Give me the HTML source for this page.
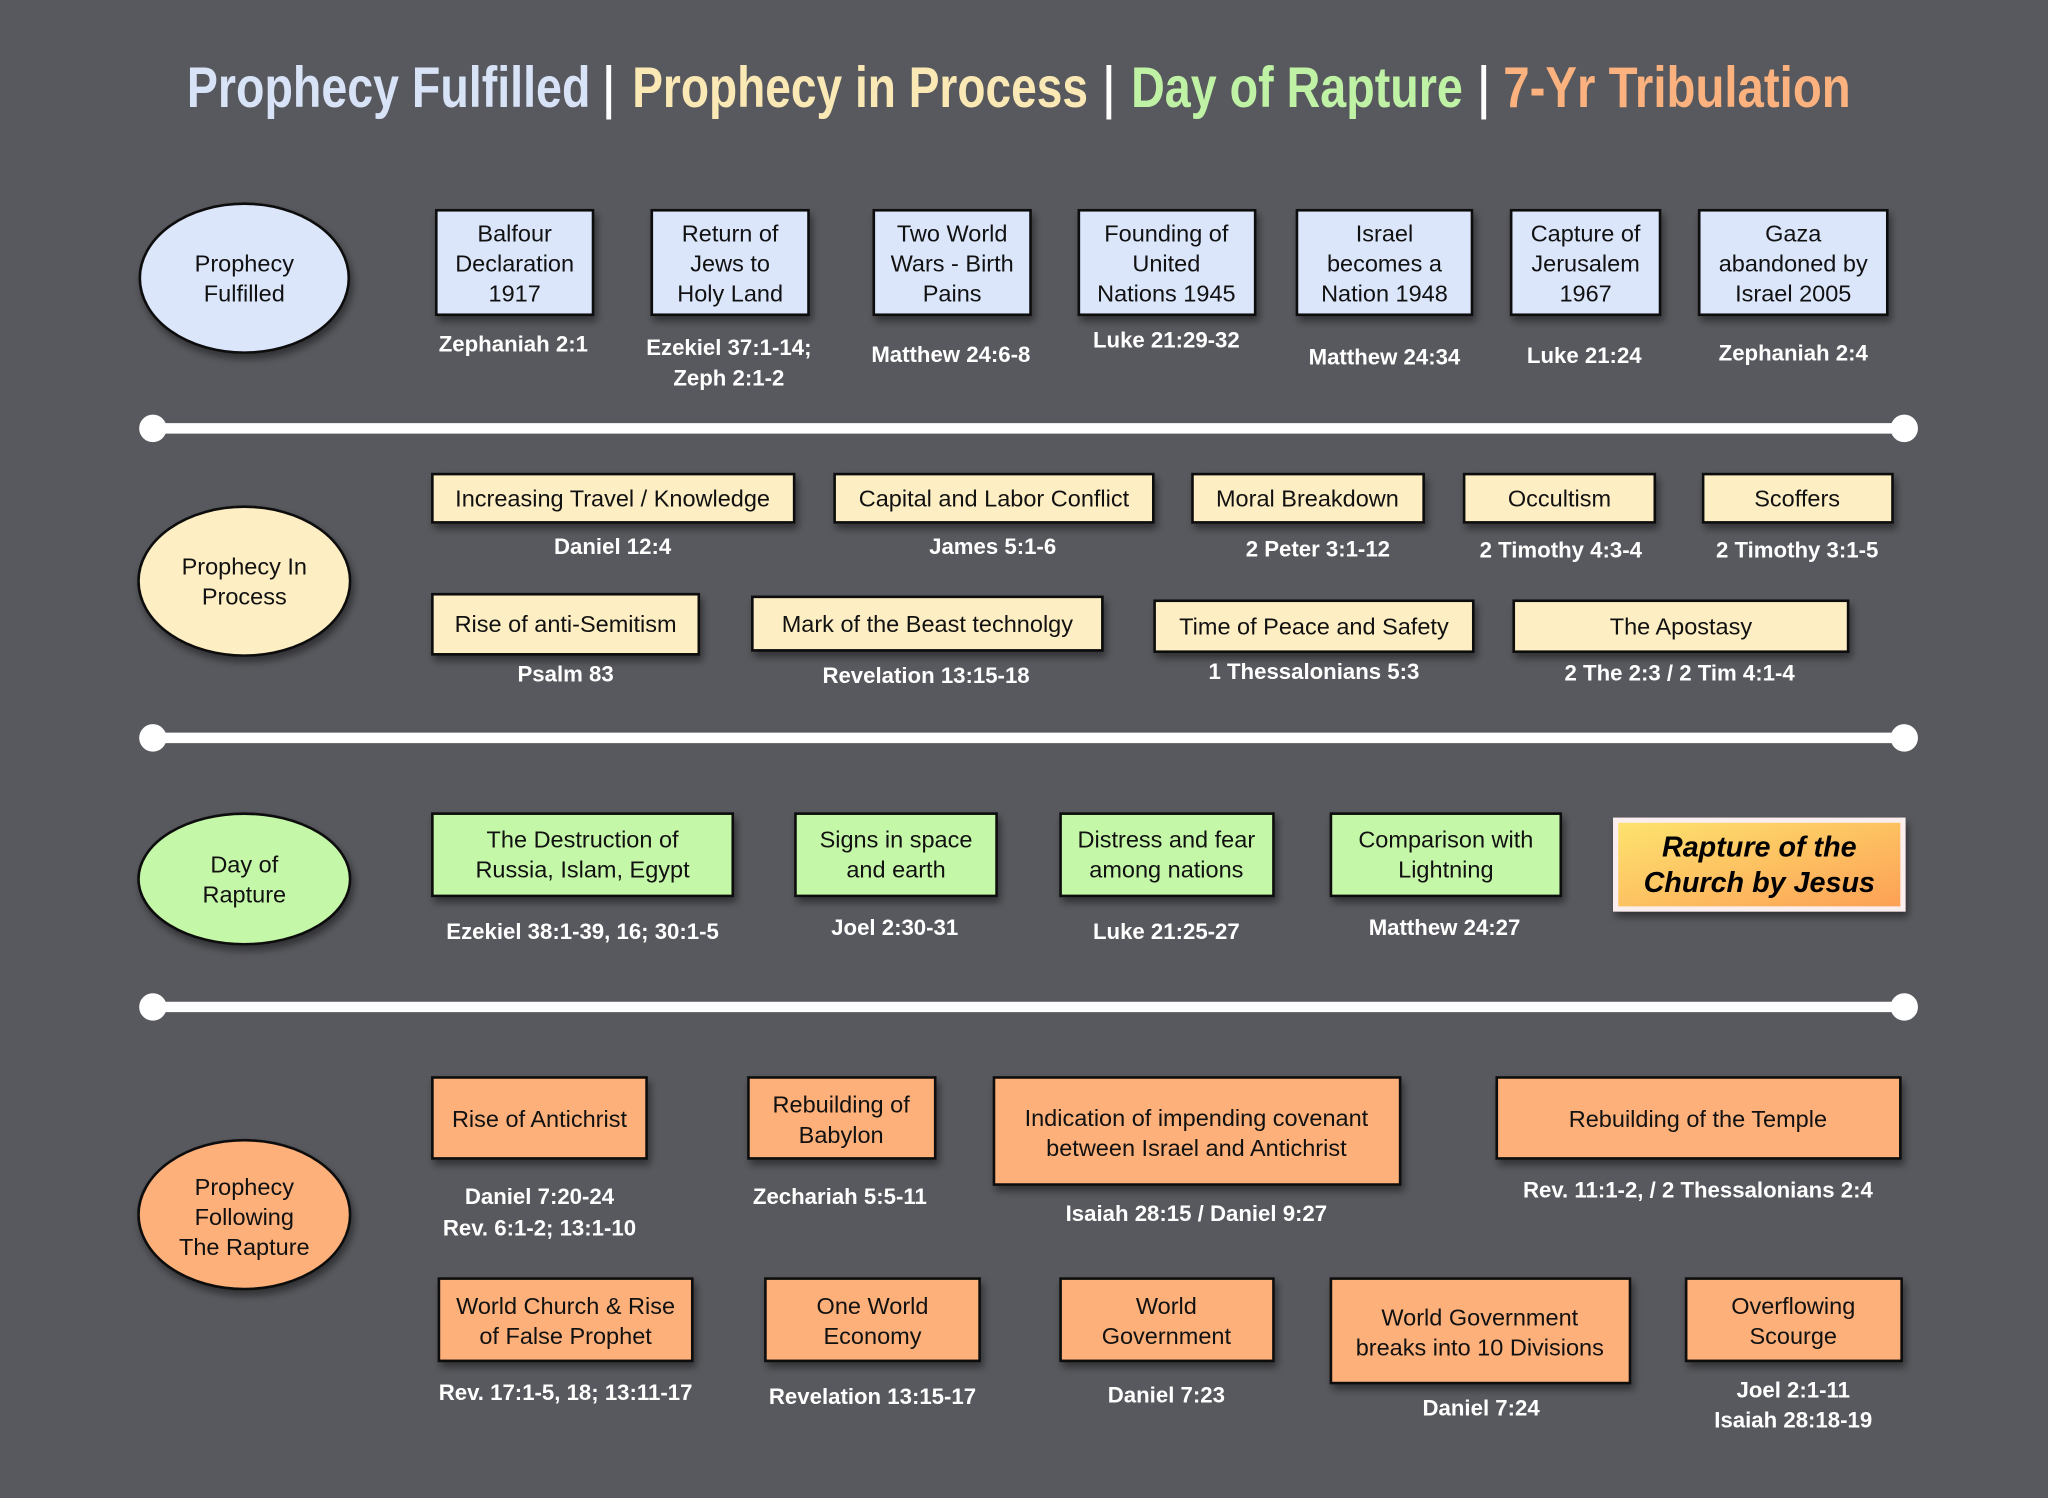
<!DOCTYPE html>
<html><head><meta charset="utf-8"><style>
html,body{margin:0;padding:0;background:#58595e;}
svg{display:block}
text{font-family:"Liberation Sans",sans-serif;}
.b{font-size:18px;fill:#111;text-anchor:middle}
.r{font-size:17px;fill:#fff;font-weight:bold;text-anchor:middle}
.e{font-size:18px;fill:#111;text-anchor:middle}
</style></head><body>
<svg width="2048" height="1498" viewBox="0 0 1568 1147" xmlns="http://www.w3.org/2000/svg">
<defs>
<filter id="sh" x="-20%" y="-20%" width="140%" height="150%"><feDropShadow dx="2" dy="4" stdDeviation="3" flood-color="#000" flood-opacity="0.45"/></filter>
<linearGradient id="rg" x1="0" y1="0" x2="1" y2="1"><stop offset="0" stop-color="#fde46f"/><stop offset="1" stop-color="#fd9f55"/></linearGradient>
</defs>
<rect width="1568" height="1147" fill="#58595e"/>
<g font-weight="bold" font-size="44">
<text x="143" y="82" fill="#d9e3f7" textLength="309" lengthAdjust="spacingAndGlyphs">Prophecy Fulfilled</text>
<text x="462" y="82" fill="#fff" textLength="8" lengthAdjust="spacingAndGlyphs">|</text>
<text x="484" y="82" fill="#fbe9b5" textLength="349" lengthAdjust="spacingAndGlyphs">Prophecy in Process</text>
<text x="845" y="82" fill="#fff" textLength="8" lengthAdjust="spacingAndGlyphs">|</text>
<text x="866" y="82" fill="#bff2a5" textLength="254" lengthAdjust="spacingAndGlyphs">Day of Rapture</text>
<text x="1132" y="82" fill="#fff" textLength="8" lengthAdjust="spacingAndGlyphs">|</text>
<text x="1151" y="82" fill="#fbb27e" textLength="266" lengthAdjust="spacingAndGlyphs">7-Yr Tribulation</text>
</g>
<g fill="#fff" stroke="#fff">
<line x1="117" y1="328" x2="1458" y2="328" stroke-width="8"/><circle cx="117" cy="328" r="10"/><circle cx="1458" cy="328" r="10"/>
<line x1="117" y1="565" x2="1458" y2="565" stroke-width="8"/><circle cx="117" cy="565" r="10"/><circle cx="1458" cy="565" r="10"/>
<line x1="117" y1="771" x2="1458" y2="771" stroke-width="8"/><circle cx="117" cy="771" r="10"/><circle cx="1458" cy="771" r="10"/>
</g>
<g stroke="#111" stroke-width="2" filter="url(#sh)">
<ellipse cx="187" cy="213" rx="80" ry="57" fill="#dbe6fb"/>
<ellipse cx="187" cy="445" rx="81" ry="57" fill="#fdeec3"/>
<ellipse cx="187" cy="673" rx="81" ry="50" fill="#c5f7a8"/>
<ellipse cx="187" cy="930" rx="81" ry="57" fill="#fdb07a"/>
</g>
<text class="e" x="187" y="208">Prophecy</text><text class="e" x="187" y="231">Fulfilled</text>
<text class="e" x="187" y="440">Prophecy In</text><text class="e" x="187" y="463">Process</text>
<text class="e" x="187" y="668">Day of</text><text class="e" x="187" y="691">Rapture</text>
<text class="e" x="187" y="915">Prophecy</text><text class="e" x="187" y="938">Following</text><text class="e" x="187" y="961">The Rapture</text>

<g stroke="#111" stroke-width="2" filter="url(#sh)">
<g fill="#dbe6fb">
<rect x="334" y="161" width="120" height="80"/><rect x="499" y="161" width="120" height="80"/><rect x="669" y="161" width="120" height="80"/><rect x="826" y="161" width="135" height="80"/><rect x="993" y="161" width="134" height="80"/><rect x="1157" y="161" width="114" height="80"/><rect x="1301" y="161" width="144" height="80"/>
</g>
<g fill="#fdeec3">
<rect x="331" y="363" width="277" height="37"/><rect x="639" y="363" width="244" height="37"/><rect x="913" y="363" width="177" height="37"/><rect x="1121" y="363" width="146" height="37"/><rect x="1304" y="363" width="145" height="37"/>
<rect x="331" y="455" width="204" height="46"/><rect x="576" y="457" width="268" height="41"/><rect x="884" y="460" width="244" height="39"/><rect x="1159" y="460" width="256" height="39"/>
</g>
<g fill="#c5f7a8">
<rect x="331" y="623" width="230" height="63"/><rect x="609" y="623" width="154" height="63"/><rect x="812" y="623" width="163" height="63"/><rect x="1019" y="623" width="176" height="63"/>
</g>
<g fill="#fdb07a">
<rect x="331" y="825" width="164" height="62"/><rect x="573" y="825" width="143" height="62"/><rect x="761" y="825" width="311" height="82"/><rect x="1146" y="825" width="309" height="62"/>
<rect x="336" y="979" width="194" height="63"/><rect x="586" y="979" width="164" height="63"/><rect x="812" y="979" width="163" height="63"/><rect x="1019" y="979" width="229" height="80"/><rect x="1291" y="979" width="165" height="63"/>
</g>
</g>
<rect x="1237" y="628" width="220" height="68" fill="url(#rg)" stroke="#fbeeee" stroke-width="4" filter="url(#sh)"/>
<text x="1347" y="656" font-size="22" font-weight="bold" font-style="italic" text-anchor="middle" fill="#000">Rapture of the</text>
<text x="1347" y="683" font-size="22" font-weight="bold" font-style="italic" text-anchor="middle" fill="#000">Church by Jesus</text>

<g class="b">
<text class="b" x="394" y="185">Balfour</text><text class="b" x="394" y="208">Declaration</text><text class="b" x="394" y="231">1917</text>
<text class="b" x="559" y="185">Return of</text><text class="b" x="559" y="208">Jews to</text><text class="b" x="559" y="231">Holy Land</text>
<text class="b" x="729" y="185">Two World</text><text class="b" x="729" y="208">Wars - Birth</text><text class="b" x="729" y="231">Pains</text>
<text class="b" x="893" y="185">Founding of</text><text class="b" x="893" y="208">United</text><text class="b" x="893" y="231">Nations 1945</text>
<text class="b" x="1060" y="185">Israel</text><text class="b" x="1060" y="208">becomes a</text><text class="b" x="1060" y="231">Nation 1948</text>
<text class="b" x="1214" y="185">Capture of</text><text class="b" x="1214" y="208">Jerusalem</text><text class="b" x="1214" y="231">1967</text>
<text class="b" x="1373" y="185">Gaza</text><text class="b" x="1373" y="208">abandoned by</text><text class="b" x="1373" y="231">Israel 2005</text>

<text class="b" x="469" y="388">Increasing Travel / Knowledge</text>
<text class="b" x="761" y="388">Capital and Labor Conflict</text>
<text class="b" x="1001" y="388">Moral Breakdown</text>
<text class="b" x="1194" y="388">Occultism</text>
<text class="b" x="1376" y="388">Scoffers</text>
<text class="b" x="433" y="484">Rise of anti-Semitism</text>
<text class="b" x="710" y="484">Mark of the Beast technolgy</text>
<text class="b" x="1006" y="486">Time of Peace and Safety</text>
<text class="b" x="1287" y="486">The Apostasy</text>

<text class="b" x="446" y="649">The Destruction of</text><text class="b" x="446" y="672">Russia, Islam, Egypt</text>
<text class="b" x="686" y="649">Signs in space</text><text class="b" x="686" y="672">and earth</text>
<text class="b" x="893" y="649">Distress and fear</text><text class="b" x="893" y="672">among nations</text>
<text class="b" x="1107" y="649">Comparison with</text><text class="b" x="1107" y="672">Lightning</text>

<text class="b" x="413" y="863">Rise of Antichrist</text>
<text class="b" x="644" y="852">Rebuilding of</text><text class="b" x="644" y="875">Babylon</text>
<text class="b" x="916" y="862">Indication of impending covenant</text><text class="b" x="916" y="885">between Israel and Antichrist</text>
<text class="b" x="1300" y="863">Rebuilding of the Temple</text>
<text class="b" x="433" y="1006">World Church &amp; Rise</text><text class="b" x="433" y="1029">of False Prophet</text>
<text class="b" x="668" y="1006">One World</text><text class="b" x="668" y="1029">Economy</text>
<text class="b" x="893" y="1006">World</text><text class="b" x="893" y="1029">Government</text>
<text class="b" x="1133" y="1015">World Government</text><text class="b" x="1133" y="1038">breaks into 10 Divisions</text>
<text class="b" x="1373" y="1006">Overflowing</text><text class="b" x="1373" y="1029">Scourge</text>
</g>

<g>
<text class="r" x="393" y="269">Zephaniah 2:1</text>
<text class="r" x="558" y="272">Ezekiel 37:1-14;</text><text class="r" x="558" y="295">Zeph 2:1-2</text>
<text class="r" x="728" y="277">Matthew 24:6-8</text>
<text class="r" x="893" y="266">Luke 21:29-32</text>
<text class="r" x="1060" y="279">Matthew 24:34</text>
<text class="r" x="1213" y="278">Luke 21:24</text>
<text class="r" x="1373" y="276">Zephaniah 2:4</text>

<text class="r" x="469" y="424">Daniel 12:4</text>
<text class="r" x="760" y="424">James 5:1-6</text>
<text class="r" x="1009" y="426">2 Peter 3:1-12</text>
<text class="r" x="1195" y="427">2 Timothy 4:3-4</text>
<text class="r" x="1376" y="427">2 Timothy 3:1-5</text>
<text class="r" x="433" y="522">Psalm 83</text>
<text class="r" x="709" y="523">Revelation 13:15-18</text>
<text class="r" x="1006" y="520">1 Thessalonians 5:3</text>
<text class="r" x="1286" y="521">2 The 2:3 / 2 Tim 4:1-4</text>

<text class="r" x="446" y="719">Ezekiel 38:1-39, 16; 30:1-5</text>
<text class="r" x="685" y="716">Joel 2:30-31</text>
<text class="r" x="893" y="719">Luke 21:25-27</text>
<text class="r" x="1106" y="716">Matthew 24:27</text>

<text class="r" x="413" y="922">Daniel 7:20-24</text><text class="r" x="413" y="946">Rev. 6:1-2; 13:1-10</text>
<text class="r" x="643" y="922">Zechariah 5:5-11</text>
<text class="r" x="916" y="935">Isaiah 28:15 / Daniel 9:27</text>
<text class="r" x="1300" y="917">Rev. 11:1-2,  / 2 Thessalonians 2:4</text>
<text class="r" x="433" y="1072">Rev. 17:1-5, 18; 13:11-17</text>
<text class="r" x="668" y="1075">Revelation 13:15-17</text>
<text class="r" x="893" y="1074">Daniel 7:23</text>
<text class="r" x="1134" y="1084">Daniel 7:24</text>
<text class="r" x="1373" y="1070">Joel 2:1-11</text><text class="r" x="1373" y="1093">Isaiah 28:18-19</text>
</g>
</svg>
</body></html>
